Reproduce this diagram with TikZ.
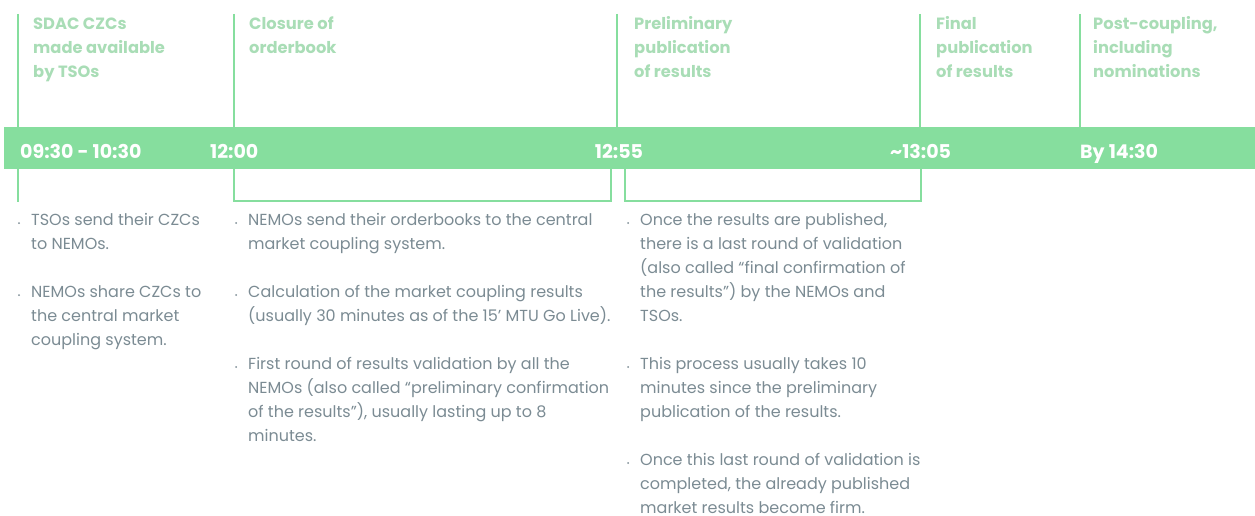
\documentclass[tikz,border=0pt]{standalone}
\usepackage{fontspec}
\setmainfont{Poppins}
\usetikzlibrary{positioning}
\definecolor{barGreen}{HTML}{86DE9E}
\definecolor{labelGreen}{HTML}{A9DDB6}
\definecolor{noteGray}{HTML}{7B8B93}

\begin{document}
\begin{tikzpicture}[x=1pt, y=-1pt,
  tick/.style={draw=barGreen, line width=1.8pt},
  stage/.style={anchor=base west, align=left, inner sep=0pt, text=labelGreen, font=\fontsize{16.3}{24}\selectfont\bfseries},
  time/.style={anchor=base west, inner sep=0pt, text=white, font=\fontsize{19}{20}\selectfont\bfseries},
  note/.style={anchor=base west, align=left, inner sep=0pt, text=noteGray, font=\fontsize{16}{24}\selectfont},
  dot/.style={circle, fill=noteGray, inner sep=0pt, minimum size=2pt}]

\useasboundingbox (0,0) rectangle (1255,516);

% 時間軸
\fill[barGreen] (4,127) rectangle (1255,169);

% 上方刻度
\foreach \x/\n in {18/a, 234/b, 617/c, 920/d, 1080/e} {
  \coordinate (top\n) at (\x,14);
  \coordinate (bar\n) at (\x,127);
  \draw[tick] (top\n) -- (bar\n);
}

% 下方刻度與括號
\coordinate (lowA) at (18,169);
\coordinate (endA) at (18,202);
\draw[tick] (lowA) -- (endA);
\coordinate (brB1) at (234,169);
\coordinate (brB2) at (611,169);
\draw[tick] (brB1) -- (234,201) -- (611,201) -- (brB2);
\coordinate (brC1) at (625,169);
\coordinate (brC2) at (921,169);
\draw[tick] (brC1) -- (625,201) -- (921,201) -- (brC2);

% 階段名稱 (base = 最後一行)
\node[stage] (stageA) at (33,78) {SDAC CZCs\\made available\\by TSOs};
\node[stage] (stageB) at (249,54) {Closure of\\orderbook};
\node[stage] (stageC) at (634,78) {Preliminary\\publication\\of results};
\node[stage] (stageD) at (936,78) {Final\\publication\\of results};
\node[stage] (stageE) at (1093,78) {Post-coupling,\\including\\nominations};

% 時間
\node[time] (timeA) at (20,158) {09:30 - 10:30};
\node[time] (timeB) at (210,158) {12:00};
\node[time, anchor=base] (timeC) at (619,158) {12:55};
\node[time] (timeD) at (890,158) {\textasciitilde13:05};
\node[time] (timeE) at (1080,158) {By 14:30};

% 說明
\node[dot] (dA1) at (19,223) {};
\node[note] (noteA1) at (31,249) {TSOs send their CZCs\\to NEMOs.};
\node[dot] (dA2) at (19,295) {};
\node[note] (noteA2) at (31,345) {NEMOs share CZCs to\\the central market\\coupling system.};

\node[dot] (dB1) at (236,223) {};
\node[note] (noteB1) at (248,249) {NEMOs send their orderbooks to the central\\market coupling system.};
\node[dot] (dB2) at (236,295) {};
\node[note] (noteB2) at (248,321) {Calculation of the market coupling results\\(usually 30 minutes as of the 15’ MTU Go Live).};
\node[dot] (dB3) at (236,367) {};
\node[note] (noteB3) at (248,441) {First round of results validation by all the\\NEMOs (also called “preliminary confirmation\\of the results”), usually lasting up to 8\\minutes.};

\node[dot] (dC1) at (628,223) {};
\node[note] (noteC1) at (640,321) {Once the results are published,\\there is a last round of validation\\(also called “final confirmation of\\the results”) by the NEMOs and\\TSOs.};
\node[dot] (dC2) at (628,367) {};
\node[note] (noteC2) at (640,417) {This process usually takes 10\\minutes since the preliminary\\publication of the results.};
\node[dot] (dC3) at (628,463) {};
\node[note] (noteC3) at (640,513) {Once this last round of validation is\\completed, the already published\\market results become firm.};

\end{tikzpicture}
\end{document}
